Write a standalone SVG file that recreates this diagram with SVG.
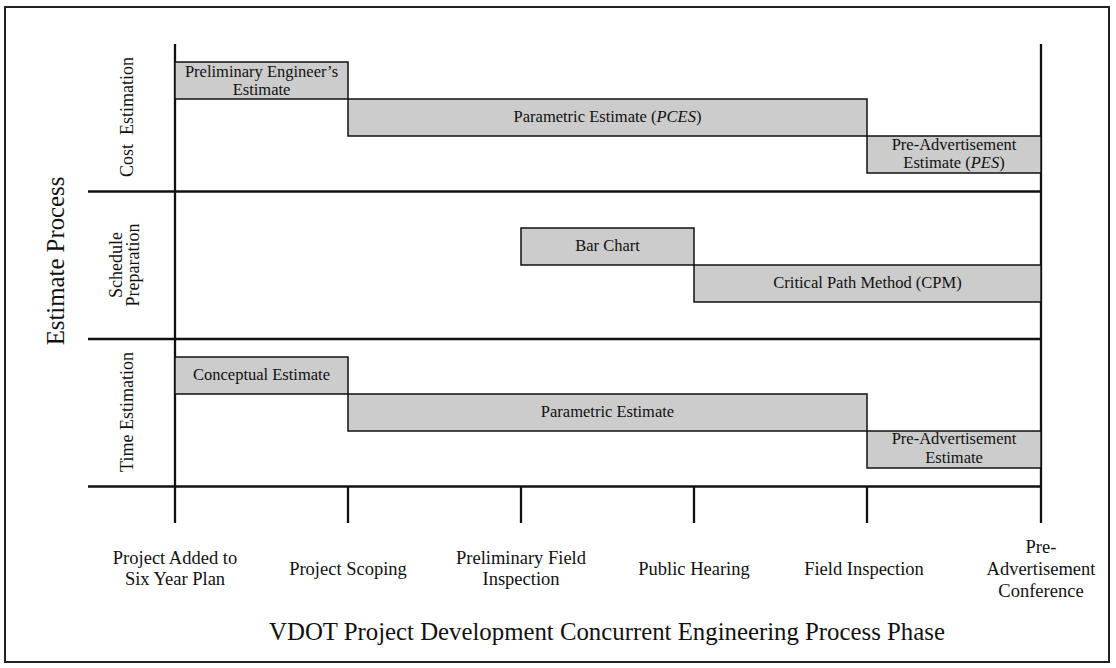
<svg xmlns="http://www.w3.org/2000/svg" width="1116" height="668" viewBox="0 0 1116 668">
<style>
.t{font-family:"Liberation Serif","Times New Roman",serif;fill:#111}
.bt{font-size:16.5px;text-anchor:middle}
.lb{font-size:18.5px;text-anchor:middle}
.sd{font-size:18px;text-anchor:middle}
.big{font-size:24.8px;text-anchor:middle}
.bar{fill:#cccccc;stroke:#111;stroke-width:1.5}
.ax{stroke:#111;stroke-width:2.3;fill:none}
</style>
<rect x="5" y="7" width="1104" height="655" fill="#fff" stroke="#222" stroke-width="2"/>
<g id="axes">
<line class="ax" x1="175" y1="44" x2="175" y2="523"/>
<line class="ax" x1="1041" y1="44" x2="1041" y2="523"/>
<line class="ax" x1="88" y1="191.5" x2="1041" y2="191.5"/>
<line class="ax" x1="88" y1="339" x2="1041" y2="339"/>
<line class="ax" x1="88" y1="486.5" x2="1041" y2="486.5"/>
<line class="ax" x1="348" y1="486" x2="348" y2="523"/>
<line class="ax" x1="521" y1="486" x2="521" y2="523"/>
<line class="ax" x1="694" y1="486" x2="694" y2="523"/>
<line class="ax" x1="867" y1="486" x2="867" y2="523"/>
</g>
<g id="bar-prelim-eng">
<rect class="bar" x="175" y="62" width="173" height="37"/>
<text class="t bt" x="261.5" y="77">Preliminary Engineer’s</text>
<text class="t bt" x="261.5" y="95">Estimate</text>
</g>
<g id="bar-pces">
<rect class="bar" x="348" y="99" width="519" height="37"/>
<text class="t bt" x="607.5" y="122">Parametric Estimate (<tspan font-style="italic">PCES</tspan>)</text>
</g>
<g id="bar-pes">
<rect class="bar" x="867" y="136" width="174" height="37"/>
<text class="t bt" x="954" y="150">Pre-Advertisement</text>
<text class="t bt" x="954" y="168">Estimate (<tspan font-style="italic">PES</tspan>)</text>
</g>
<g id="bar-barchart">
<rect class="bar" x="521" y="228" width="173" height="37"/>
<text class="t bt" x="607.5" y="251">Bar Chart</text>
</g>
<g id="bar-cpm">
<rect class="bar" x="694" y="265" width="347" height="37"/>
<text class="t bt" x="867.5" y="288">Critical Path Method (CPM)</text>
</g>
<g id="bar-conceptual">
<rect class="bar" x="175" y="357" width="173" height="37"/>
<text class="t bt" x="261.5" y="380">Conceptual Estimate</text>
</g>
<g id="bar-parametric">
<rect class="bar" x="348" y="394" width="519" height="37"/>
<text class="t bt" x="607.5" y="417">Parametric Estimate</text>
</g>
<g id="bar-preadv">
<rect class="bar" x="867" y="431" width="174" height="37"/>
<text class="t bt" x="954" y="444">Pre-Advertisement</text>
<text class="t bt" x="954" y="462.5">Estimate</text>
</g>
<g id="side-labels">
<text class="t big" transform="translate(64,261) rotate(-90)">Estimate Process</text>
<text class="t sd" transform="translate(133,117) rotate(-90)">Cost&#160; Estimation</text>
<text class="t sd" transform="translate(122,265) rotate(-90)">Schedule</text>
<text class="t sd" transform="translate(139,265) rotate(-90)">Preparation</text>
<text class="t sd" transform="translate(133,412) rotate(-90)">Time Estimation</text>
</g>
<g id="phase-labels">
<text class="t lb" x="175" y="564">Project Added to</text>
<text class="t lb" x="175" y="585">Six Year Plan</text>
<text class="t lb" x="348" y="575">Project Scoping</text>
<text class="t lb" x="521" y="564">Preliminary Field</text>
<text class="t lb" x="521" y="585">Inspection</text>
<text class="t lb" x="694" y="575">Public Hearing</text>
<text class="t lb" x="864" y="575">Field Inspection</text>
<text class="t lb" x="1041" y="553">Pre-</text>
<text class="t lb" x="1041" y="575">Advertisement</text>
<text class="t lb" x="1041" y="597">Conference</text>
<text class="t big" x="607" y="640">VDOT Project Development Concurrent Engineering Process Phase</text>
</g>
</svg>
